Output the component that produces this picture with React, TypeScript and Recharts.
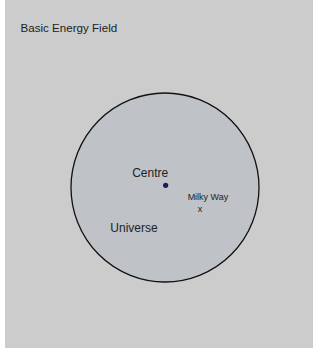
import React from 'react';
import { ScatterChart, Scatter, XAxis, YAxis, ReferenceArea, ReferenceDot } from 'recharts';

// units: the universe has radius 1, centred on (0, 0)
const title = 'Basic Energy Field';
const universeName = 'Universe';
const universeRadius = 1;
const universeLabelAt = [-0.33, -0.43];

const centre = [{ name: 'Centre', x: 0.007, y: 0.023 }];
const milkyWay = [{ name: 'Milky Way', x: 0.372, y: -0.234 }];

const FONT = '"Liberation Sans", Arial, sans-serif';

const UniverseShape = (p: any) => (
  <ellipse
    cx={p.x + p.width / 2}
    cy={p.y + p.height / 2}
    rx={p.width / 2}
    ry={p.height / 2}
    fill="#bfc3c7"
    stroke="#111"
    strokeWidth={1.3}
  />
);

const CentreShape = (p: any) => (
  <g>
    <circle cx={p.cx} cy={p.cy} r={2.6} fill="#1d1d58" />
    <text x={p.cx - 15.5} y={p.cy - 8.5} textAnchor="middle" fontSize={12} fontFamily={FONT} fill="#222">
      {p.payload.name}
    </text>
  </g>
);

const MilkyWayShape = (p: any) => (
  <g fontFamily={FONT} fill="#222">
    <text x={p.cx} y={p.cy + 2.5} textAnchor="middle" fontSize={9}>x</text>
    <text x={p.cx + 8} y={p.cy - 9.5} textAnchor="middle" fontSize={9}>{p.payload.name}</text>
  </g>
);

const UniverseLabel = (p: any) => (
  <text x={p.cx} y={p.cy + 4} textAnchor="middle" fontSize={12} fontFamily={FONT} fill="#222">
    {universeName}
  </text>
);

export default function App() {
  return (
    <div style={{ position: 'absolute', left: 5, top: 0, width: 308, height: 348, background: '#cccccc' }}>
      <div style={{ position: 'absolute', left: 15.5, top: 22, fontSize: 11.6, lineHeight: '11px', fontFamily: FONT, color: '#222' }}>
        {title}
      </div>
      <ScatterChart width={308} height={348} margin={{ top: 93, right: 54, bottom: 66, left: 66 }}>
        <XAxis type="number" dataKey="x" domain={[-universeRadius, universeRadius]} hide allowDataOverflow />
        <YAxis type="number" dataKey="y" domain={[-universeRadius, universeRadius]} hide allowDataOverflow />
        <ReferenceArea
          x1={-universeRadius}
          x2={universeRadius}
          y1={-universeRadius}
          y2={universeRadius}
          shape={UniverseShape}
        />
        <ReferenceDot x={universeLabelAt[0]} y={universeLabelAt[1]} r={0} shape={UniverseLabel} />
        <Scatter data={centre} shape={CentreShape} isAnimationActive={false} />
        <Scatter data={milkyWay} shape={MilkyWayShape} isAnimationActive={false} />
      </ScatterChart>
    </div>
  );
}
